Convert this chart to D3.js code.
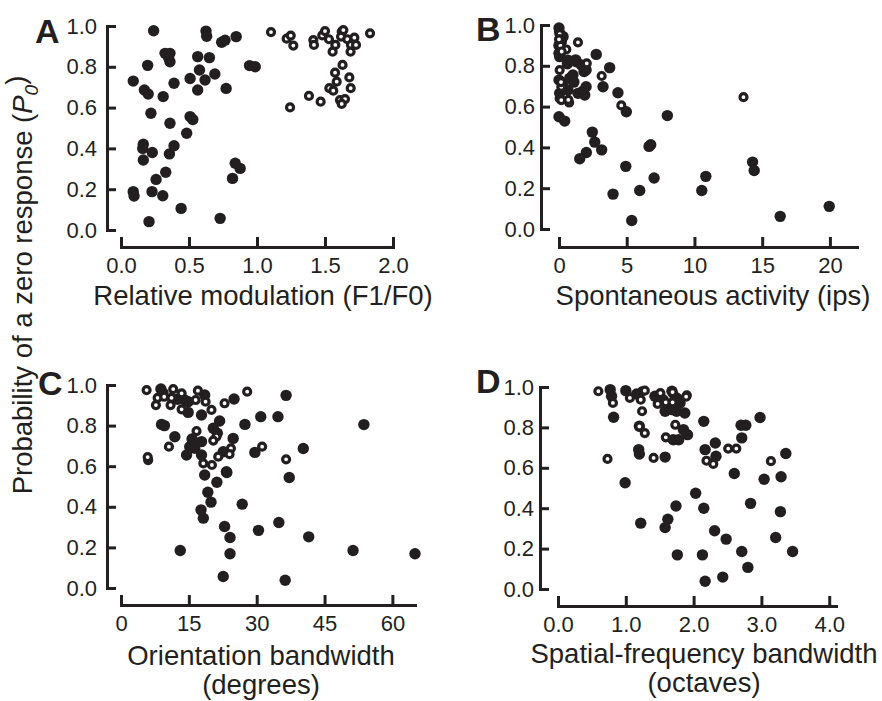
<!DOCTYPE html>
<html>
<head>
<meta charset="utf-8">
<script src="https://cdn.jsdelivr.net/npm/d3@7"></script>
<style>
  body { margin: 0; background: #fff; }
  svg text { font-family: "Liberation Sans", Arial, Helvetica, sans-serif; fill: #231f20; }
</style>
</head>
<body>
<div id="chart"></div>
<script>
// values: [x, P0]
var aFilled = [[0.24,0.977],[0.625,0.975],[0.63,0.95],[0.74,0.92],[0.765,0.93],[0.847,0.948],[0.324,0.866],[0.36,0.866],[0.36,0.825],[0.35,0.845],[0.564,0.85],[0.65,0.845],[0.196,0.807],[0.09,0.73],[0.172,0.686],[0.2,0.667],[0.31,0.654],[0.39,0.719],[0.508,0.743],[0.577,0.784],[0.618,0.735],[0.69,0.765],[0.564,0.686],[0.773,0.694],[0.945,0.806],[0.987,0.8],[0.22,0.572],[0.36,0.523],[0.508,0.556],[0.528,0.542],[0.483,0.474],[0.164,0.42],[0.16,0.4],[0.23,0.38],[0.164,0.343],[0.39,0.413],[0.356,0.373],[0.329,0.283],[0.258,0.248],[0.09,0.188],[0.096,0.167],[0.228,0.188],[0.307,0.168],[0.442,0.106],[0.206,0.041],[0.729,0.057],[0.84,0.327],[0.876,0.302],[0.82,0.253]];
var aOpen = [[1.103,0.97],[1.218,0.938],[1.248,0.953],[1.267,0.904],[1.243,0.601],[1.382,0.657],[1.468,0.629],[1.414,0.931],[1.419,0.907],[1.48,0.954],[1.5,0.975],[1.529,0.935],[1.556,0.874],[1.576,0.907],[1.623,0.972],[1.618,0.948],[1.635,0.98],[1.664,0.935],[1.691,0.907],[1.688,0.874],[1.716,0.943],[1.728,0.907],[1.831,0.964],[1.629,0.809],[1.574,0.771],[1.679,0.748],[1.586,0.727],[1.532,0.695],[1.561,0.683],[1.689,0.695],[1.61,0.637],[1.647,0.642],[1.623,0.618]];

var bFilled = [[0,0.985],[0.1,0.955],[0.3,0.943],[0.17,0.918],[0,0.9],[0,0.861],[0.05,0.845],[0.66,0.828],[0.62,0.81],[1.23,0.829],[1.28,0.82],[1.65,0.804],[1.85,0.772],[2.0,0.779],[2.75,0.856],[3.74,0.791],[0,0.73],[0.79,0.739],[0.86,0.739],[1.03,0.755],[1.1,0.72],[0.3,0.7],[3.25,0.697],[0.05,0.665],[0.66,0.681],[1.4,0.665],[1.77,0.676],[2.0,0.697],[1.9,0.657],[4.35,0.668],[4.97,0.575],[0,0.55],[0.42,0.529],[8.0,0.556],[2.46,0.475],[2.64,0.426],[3.15,0.388],[2.02,0.375],[1.53,0.344],[6.65,0.405],[6.77,0.413],[4.93,0.307],[7.02,0.25],[5.96,0.189],[3.99,0.171],[5.37,0.042],[10.54,0.189],[10.84,0.258],[14.29,0.328],[14.41,0.287],[16.33,0.062],[19.95,0.111]];
var bOpen = [[0,0.968],[0.05,0.955],[0.1,0.93],[0.54,0.88],[1.4,0.915],[2.05,0.812],[0.05,0.779],[3.15,0.75],[0.17,0.697],[0.05,0.64],[0.17,0.632],[0.75,0.62],[0.69,0.633],[4.6,0.606],[13.62,0.646],[0.1,0.9],[0.2,0.87],[0.15,0.72],[0,0.93]];

var cFilled = [[8.82,0.98],[14.1,0.926],[14.85,0.918],[14.85,0.865],[18.5,0.951],[17.8,0.852],[25.0,0.931],[36.5,0.949],[53.7,0.805],[27.4,0.806],[30.9,0.844],[34.7,0.844],[40.3,0.687],[29.6,0.668],[37.2,0.544],[24.8,0.737],[23.4,0.569],[21.2,0.521],[18.5,0.557],[19.2,0.472],[19.9,0.423],[26.8,0.413],[17.7,0.385],[18.2,0.344],[22.9,0.303],[24.1,0.249],[24.1,0.169],[30.4,0.284],[34.9,0.323],[41.5,0.252],[51.3,0.185],[65.0,0.169],[13.1,0.185],[22.6,0.057],[36.3,0.038],[8.97,0.806],[9.6,0.8],[11.9,0.745],[21.8,0.823],[20.4,0.787],[21.3,0.762],[15.7,0.734],[15.2,0.696],[16.3,0.688],[17.8,0.721],[14.5,0.655],[17.8,0.655],[22.6,0.671],[23.3,0.573],[16.0,0.72],[9.3,0.96],[12.5,0.93]];
var cOpen = [[5.66,0.975],[8.1,0.937],[7.72,0.901],[9.55,0.942],[11.54,0.98],[11.18,0.937],[10.96,0.901],[13.4,0.959],[13.4,0.88],[16.5,0.926],[17.0,0.972],[18.7,0.918],[20.0,0.877],[22.9,0.91],[27.9,0.967],[10.6,0.696],[6.0,0.63],[21.1,0.745],[20.4,0.726],[16.7,0.773],[31.2,0.696],[24.3,0.688],[24.0,0.659],[21.5,0.647],[18.2,0.614],[20.1,0.606],[36.5,0.634],[5.9,0.645]];

var dFilled = [[0.77,0.987],[0.79,0.954],[0.82,0.85],[1.0,0.982],[1.16,0.965],[1.43,0.954],[1.55,0.937],[1.58,0.88],[1.68,0.979],[1.75,0.946],[1.8,0.921],[1.87,0.871],[1.75,0.88],[1.68,0.888],[1.85,0.789],[1.91,0.764],[2.15,0.83],[1.7,0.739],[1.78,0.739],[1.19,0.69],[1.2,0.668],[1.58,0.653],[2.17,0.69],[2.32,0.723],[2.33,0.657],[0.99,0.526],[1.2,0.806],[2.6,0.572],[2.7,0.811],[2.77,0.811],[2.71,0.748],[2.98,0.849],[3.36,0.671],[3.04,0.543],[3.29,0.556],[2.03,0.474],[1.74,0.411],[2.15,0.4],[2.84,0.424],[3.28,0.383],[1.22,0.326],[1.62,0.345],[1.58,0.304],[2.31,0.288],[2.48,0.247],[3.21,0.255],[3.46,0.186],[2.71,0.186],[1.76,0.169],[2.13,0.169],[2.8,0.107],[2.43,0.059],[2.17,0.038],[1.7,0.92],[1.62,0.9]];
var dOpen = [[0.595,0.979],[0.81,0.921],[1.06,0.946],[1.24,0.979],[1.22,0.937],[1.28,0.982],[1.24,0.88],[1.51,0.97],[1.47,0.916],[1.59,0.924],[1.7,0.965],[1.69,0.924],[1.9,0.959],[1.73,0.813],[1.2,0.805],[1.28,0.772],[1.59,0.751],[1.41,0.649],[0.73,0.644],[2.19,0.635],[2.29,0.619],[2.51,0.695],[2.63,0.695],[3.14,0.633],[1.89,0.952],[1.69,0.975]];

// tick values
var yTicks = [0, 0.2, 0.4, 0.6, 0.8, 1.0];
var aTicks = [0, 0.5, 1.0, 1.5, 2.0];
var bTicks = [0, 5, 10, 15, 20];
var cTicks = [0, 15, 30, 45, 60];
var dTicks = [0, 1, 2, 3, 4];

var ink = "#231f20";
var width = 882, height = 701;

var svg = d3.select("#chart")
  .append("svg")
    .attr("width", width)
    .attr("height", height);

var panels = [
  {letter: "A", filled: aFilled, open: aOpen, ticks: aTicks, fmt: d3.format(".1f"),
   xDomain: [0, 2], xRange: [121, 393], yRange: [230, 26], yAxisX: 107, xAxisY: 247, yPad: 10,
   label: ["Relative modulation (F1/F0)"], labelX: 263, labelY: 305, letterX: 35, letterY: 43},
  {letter: "B", filled: bFilled, open: bOpen, ticks: bTicks, fmt: d3.format("d"),
   xDomain: [0, 22], xRange: [559, 857], yRange: [229, 25], yAxisX: 541, xAxisY: 247, yPad: 6,
   label: ["Spontaneous activity (ips)"], labelX: 713, labelY: 305, letterX: 476, letterY: 41},
  {letter: "C", filled: cFilled, open: cOpen, ticks: cTicks, fmt: d3.format("d"),
   xDomain: [0, 65], xRange: [121, 415], yRange: [588, 385], yAxisX: 107, xAxisY: 605, yPad: 10,
   label: ["Orientation bandwidth", "(degrees)"], labelX: 261, labelY: 665, letterX: 38, letterY: 395},
  {letter: "D", filled: dFilled, open: dOpen, ticks: dTicks, fmt: d3.format(".1f"),
   xDomain: [0, 4.1], xRange: [558, 836], yRange: [589, 387], yAxisX: 540, xAxisY: 606, yPad: 6,
   label: ["Spatial-frequency bandwidth", "(octaves)"], labelX: 704, labelY: 663, letterX: 476, letterY: 393}
];

panels.forEach(function(p) {
  var x = d3.scaleLinear().domain(p.xDomain).range(p.xRange);
  var y = d3.scaleLinear().domain([0, 1]).range(p.yRange);

  // y axis, ticks pointing inward
  var gy = svg.append("g")
    .attr("transform", "translate(" + p.yAxisX + ",0)")
    .call(d3.axisLeft(y).tickValues(yTicks).tickFormat(d3.format(".1f"))
      .tickSizeInner(-9).tickSizeOuter(0).tickPadding(p.yPad));

  // x axis, offset below the plot, ticks pointing up
  var gx = svg.append("g")
    .attr("transform", "translate(0," + p.xAxisY + ")")
    .call(d3.axisBottom(x).tickValues(p.ticks).tickFormat(p.fmt)
      .tickSizeInner(-10).tickSizeOuter(0).tickPadding(10));

  [gx, gy].forEach(function(g) {
    g.select(".domain").attr("stroke", ink).attr("stroke-width", 3).attr("stroke-linecap", "square");
    g.selectAll(".tick line").attr("stroke", ink).attr("stroke-width", 3);
    g.selectAll(".tick text").attr("fill", ink).style("font-size", "22px");
  });

  // filled circles
  svg.append("g").selectAll("circle")
    .data(p.filled)
    .enter()
    .append("circle")
      .attr("cx", function(d) { return x(d[0]); })
      .attr("cy", function(d) { return y(d[1]); })
      .attr("r", 5.7)
      .attr("fill", ink);

  // open circles on top
  svg.append("g").selectAll("circle")
    .data(p.open)
    .enter()
    .append("circle")
      .attr("cx", function(d) { return x(d[0]); })
      .attr("cy", function(d) { return y(d[1]); })
      .attr("r", 3.5)
      .attr("fill", "#fff")
      .attr("stroke", ink)
      .attr("stroke-width", 3.2);

  // axis label (one or two lines)
  p.label.forEach(function(t, i) {
    svg.append("text")
      .attr("x", p.labelX)
      .attr("y", p.labelY + i * 29)
      .style("text-anchor", "middle")
      .style("font-size", "27.5px")
      .text(t);
  });

  // panel letter
  svg.append("text")
    .attr("x", p.letterX)
    .attr("y", p.letterY)
    .style("font-size", "34px")
    .style("font-weight", "bold")
    .text(p.letter);
});

// shared y label
var ylab = svg.append("text")
  .attr("transform", "translate(32,285) rotate(-90)")
  .style("text-anchor", "middle")
  .style("font-size", "27.5px");
ylab.append("tspan").text("Probability of a zero response (");
ylab.append("tspan").style("font-style", "italic").text("P");
ylab.append("tspan").style("font-style", "italic").style("font-size", "19px").attr("dy", "0.3em").text("0");
ylab.append("tspan").attr("dy", "-0.45em").text(")");
</script>
</body>
</html>
